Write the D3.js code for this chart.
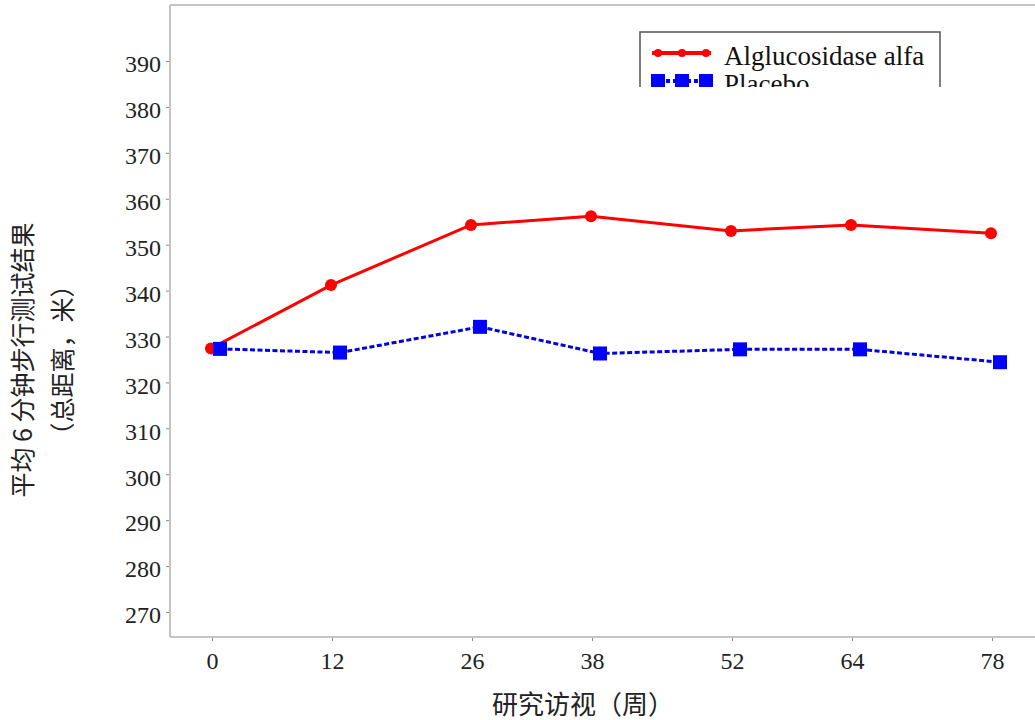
<!DOCTYPE html>
<html>
<head>
<meta charset="utf-8">
<script src="https://cdn.jsdelivr.net/npm/d3@7"></script>
<style>
  html, body { margin: 0; padding: 0; background: #fff; }
  svg { display: block; }
</style>
</head>
<body>
<svg id="chart" width="1035" height="720"></svg>
<script>
// ---- data ----
const weeks = [0, 12, 26, 38, 52, 64, 78];
const alglucosidase = [327.4, 341.2, 354.3, 356.2, 353.0, 354.3, 352.5];
const placebo = [327.3, 326.5, 332.1, 326.3, 327.2, 327.2, 324.4];
const yTicks = [270, 280, 290, 300, 310, 320, 330, 340, 350, 360, 370, 380, 390];
const seriesNames = ["Alglucosidase alfa", "Placebo"];
const xTitle = "研究访视（周）";
const yTitleLines = ["平均 6 分钟步行测试结果", "（总距离，米）"];

// ---- layout ----
const svg = d3.select("#chart");
const plotLeft = 170, plotTop = 5, plotBottom = 637, plotRight = 1040;
const serif = "'Liberation Serif', 'Times New Roman', serif";
const cjk = "'Noto Sans CJK SC', sans-serif";
const axisGray = "#c4c4c4";

const x = d3.scaleLinear().domain([0, 78]).range([212, 992]);
const y = d3.scaleLinear().domain([270, 390]).range([612, 61]);

// frame: top border
svg.append("line").attr("x1", plotLeft).attr("x2", plotRight).attr("y1", plotTop).attr("y2", plotTop)
  .attr("stroke", axisGray).attr("stroke-width", 2);

// y axis
const yAxis = svg.append("g").attr("transform", `translate(${plotLeft},0)`)
  .call(d3.axisLeft(y).tickValues(yTicks).tickSize(4).tickPadding(5).tickSizeOuter(0));
yAxis.select(".domain").remove();
yAxis.append("line").attr("x1", 0).attr("x2", 0).attr("y1", plotTop).attr("y2", plotBottom)
  .attr("stroke", axisGray).attr("stroke-width", 2);
yAxis.selectAll(".tick line").attr("stroke", "#888");
yAxis.selectAll(".tick text").attr("font-family", serif).attr("font-size", 24)
  .attr("fill", "#222").attr("dy", "0.45em");

// x axis
const xAxis = svg.append("g").attr("transform", `translate(0,${plotBottom})`)
  .call(d3.axisBottom(x).tickValues(weeks).tickSize(4).tickPadding(11).tickSizeOuter(0));
xAxis.select(".domain").remove();
xAxis.append("line").attr("x1", plotLeft).attr("x2", plotRight).attr("y1", 0).attr("y2", 0)
  .attr("stroke", axisGray).attr("stroke-width", 2);
xAxis.selectAll(".tick line").attr("stroke", "#888");
xAxis.selectAll(".tick text").attr("font-family", serif).attr("font-size", 24).attr("fill", "#222");

// titles
svg.append("text").attr("x", 583).attr("y", 714).attr("text-anchor", "middle")
  .attr("font-family", cjk).attr("font-size", 26).attr("fill", "#222").text(xTitle);
const yt = svg.append("text").attr("transform", "translate(32,360) rotate(-90)")
  .attr("text-anchor", "middle").attr("font-family", cjk).attr("font-size", 25).attr("fill", "#222");
yt.append("tspan").attr("x", 0).attr("y", 0).text(yTitleLines[0]);
yt.append("tspan").attr("x", 0).attr("y", 40).text(yTitleLines[1]);

// series
const redOff = -1, blueOff = 8;
const redPts = weeks.map((w, i) => [x(w) + redOff, y(alglucosidase[i])]);
const bluePts = weeks.map((w, i) => [x(w) + blueOff, y(placebo[i])]);
const line = d3.line();

svg.append("path").attr("d", line(redPts)).attr("fill", "none")
  .attr("stroke", "#ff0000").attr("stroke-width", 3);
svg.selectAll("circle.red").data(redPts).enter().append("circle").attr("class", "red")
  .attr("cx", d => d[0]).attr("cy", d => d[1]).attr("r", 6).attr("fill", "#ff0000");

svg.append("path").attr("d", line(bluePts)).attr("fill", "none")
  .attr("stroke", "#0000e0").attr("stroke-width", 3).attr("stroke-dasharray", "5,2.5");
svg.selectAll("rect.blue").data(bluePts).enter().append("rect").attr("class", "blue")
  .attr("x", d => d[0] - 7).attr("y", d => d[1] - 7).attr("width", 14).attr("height", 14)
  .attr("fill", "#0000ff");

// legend (clipped at bottom as in reference)
svg.append("clipPath").attr("id", "legclip").append("rect")
  .attr("x", 600).attr("y", 0).attr("width", 435).attr("height", 87);
const leg = svg.append("g").attr("clip-path", "url(#legclip)");
leg.append("rect").attr("x", 640).attr("y", 32).attr("width", 300).attr("height", 80)
  .attr("fill", "#fff").attr("stroke", "#555").attr("stroke-width", 1.5);
const legX = [658, 682, 706];
// red entry
leg.append("line").attr("x1", 652).attr("x2", 711).attr("y1", 53).attr("y2", 53)
  .attr("stroke", "#ff0000").attr("stroke-width", 4);
leg.selectAll("circle.lr").data(legX).enter().append("circle").attr("class", "lr")
  .attr("cx", d => d).attr("cy", 53).attr("r", 4).attr("fill", "#ff0000");
leg.append("text").attr("x", 724).attr("y", 65).attr("font-family", serif)
  .attr("font-size", 27).attr("fill", "#111").text(seriesNames[0]);
// blue entry
leg.append("line").attr("x1", 652).attr("x2", 711).attr("y1", 81).attr("y2", 81)
  .attr("stroke", "#0000ff").attr("stroke-width", 4).attr("stroke-dasharray", "4,3");
leg.selectAll("rect.lb").data(legX).enter().append("rect").attr("class", "lb")
  .attr("x", d => d - 7).attr("y", 74).attr("width", 14).attr("height", 14).attr("fill", "#0000ff");
leg.append("text").attr("x", 724).attr("y", 93).attr("font-family", serif)
  .attr("font-size", 27).attr("fill", "#111").text(seriesNames[1]);
</script>
</body>
</html>
